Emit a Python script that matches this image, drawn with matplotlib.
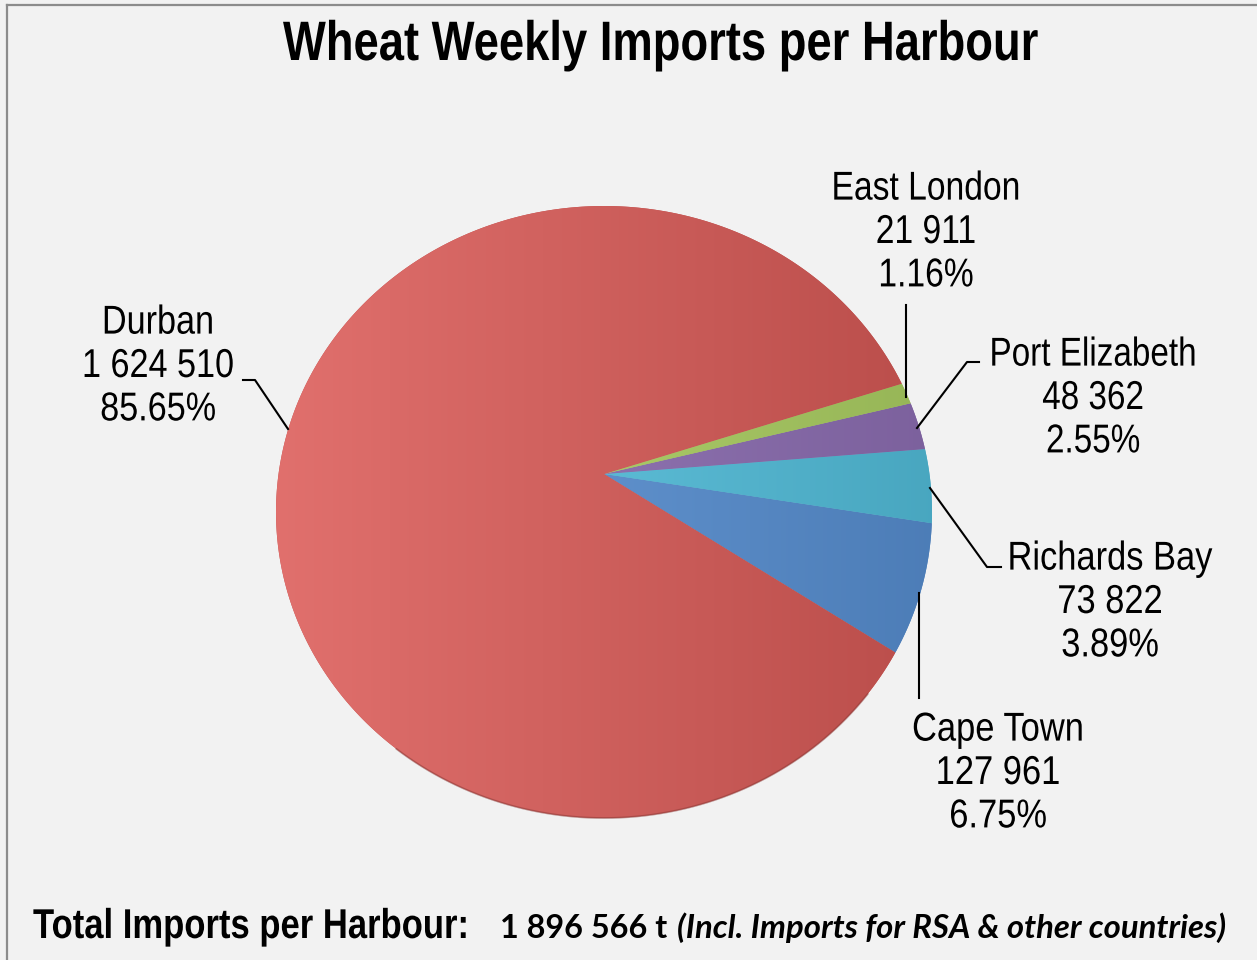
import numpy as np
import matplotlib
matplotlib.use("Agg")
import matplotlib.pyplot as plt
import matplotlib.colors as mcolors
from matplotlib.patches import Polygon
from matplotlib.patheffects import AbstractPathEffect
from matplotlib.transforms import Affine2D
from matplotlib import font_manager as fm

# ---------------- data ----------------
harbours = ["Cape Town", "Richards Bay", "Port Elizabeth", "East London", "Durban"]
tonnes = [127961, 73822, 48362, 21911, 1624510]
tonne_labels = ["127 961", "73 822", "48 362", "21 911", "1 624 510"]
pct_labels = ["6.75%", "3.89%", "2.55%", "1.16%", "85.65%"]
colors = ["#4F81BD", "#4BACC6", "#8064A2", "#9BBB59", "#C0504D"]
title = "Wheat Weekly Imports per Harbour"
total_caption = "Total Imports per Harbour:"
total_value = "1 896 566 t"
total_note = "(Incl. Imports for RSA & other countries)"

# ---------------- fonts ----------------
avail = {f.name for f in fm.fontManager.ttflist}
NARROW = "Liberation Sans Narrow" if "Liberation Sans Narrow" in avail else "Liberation Sans"
CAL = "Lato" if "Lato" in avail else "DejaVu Sans"


class Squeeze(AbstractPathEffect):
    """Scale glyph outlines about a fixed display point (narrow-font look)."""

    def __init__(self, sx, cx, sy=1.0, cy=0.0):
        super().__init__()
        self.sx, self.cx, self.sy, self.cy = sx, cx, sy, cy

    def draw_path(self, renderer, gc, tpath, affine, rgbFace=None):
        aff = affine + Affine2D().translate(-self.cx, -self.cy).scale(self.sx, self.sy) \
            .translate(self.cx, self.cy)
        renderer.draw_path(gc, tpath, aff, rgbFace)


W, H = 1257, 960
BG = "#F2F2F2"
fig = plt.figure(figsize=(W / 100, H / 100), dpi=100, facecolor=BG)
ax = fig.add_axes([0, 0, 1, 1])
ax.set_facecolor(BG)

# pie (angles come from matplotlib's pie)
wedges, _ = ax.pie(tonnes, startangle=-33.5, counterclock=True, colors=colors)
thetas = [(w.theta1, w.theta2) for w in wedges]
for w in wedges:
    w.remove()
ax.set_aspect("auto")
ax.set_xlim(0, W)
ax.set_ylim(H, 0)
ax.axis("off")

# perspective mapping of the unit disc (tilted 3D pie look)
CX, CY, A, B, D = 604.0, 512.0, 328.0, 306.0, 38.0
c_ = D / B
a_ = A * np.sqrt(1 - c_ ** 2)


def persp(x, y):
    w = 1 + c_ * y
    return CX + a_ * x / w, CY - (B * y + D) / w


def lighter(col, vf=1.17, sf=0.86):
    h, s, v = mcolors.rgb_to_hsv(mcolors.to_rgb(col))
    return mcolors.hsv_to_rgb((h, min(1, s * sf), min(1, v * vf)))


def darker(col, vf=0.97):
    h, s, v = mcolors.rgb_to_hsv(mcolors.to_rgb(col))
    return mcolors.hsv_to_rgb((h, s, v * vf))


x0p, x1p = CX - A, CX + A
y0p, y1p = CY - B, CY + B
tt = np.linspace(0, 1, 256)[None, :, None]

for (t1, t2), col in zip(thetas, colors):
    ang = np.radians(np.linspace(t1, t2, max(4, int(abs(t2 - t1) * 2))))
    ux = np.concatenate([[0.0], np.cos(ang)])
    uy = np.concatenate([[0.0], np.sin(ang)])
    px, py = persp(ux, uy)
    poly = Polygon(np.column_stack([px, py]), closed=True, facecolor=col,
                   edgecolor="none", zorder=2)
    ax.add_patch(poly)
    cl = np.array(lighter(col))[None, None, :]
    cr = np.array(darker(col))[None, None, :]
    grad = np.repeat(cl * (1 - tt) + cr * tt, 2, axis=0)
    im = ax.imshow(grad, extent=(x0p, x1p, y1p + 2, y0p - 2), aspect="auto",
                   zorder=3, interpolation="bilinear")
    im.set_clip_path(poly)

# subtle darker rim at the bottom (3D edge)
t1, t2 = thetas[-1]
ang = np.radians(np.linspace(235, min(t2, 318), 200))
rx, ry = persp(np.cos(ang), np.sin(ang))
ax.plot(rx, ry, color="#8E3A37", lw=1.3, alpha=0.55, zorder=4, solid_capstyle="round")
ax.set_xlim(0, W)
ax.set_ylim(H, 0)

# ---------------- labels ----------------
label_pos = {
    "Durban": (158, 366),
    "East London": (926, 232),
    "Port Elizabeth": (1093, 398),
    "Richards Bay": (1110, 602),
    "Cape Town": (998, 773),
}
label_width = {"Durban": 152, "East London": 189, "Port Elizabeth": 207,
               "Richards Bay": 205, "Cape Town": 172}
leaders = {
    "Durban": [(243, 380), (255, 380), (288, 429)],
    "East London": [(906, 305), (906, 397)],
    "Port Elizabeth": [(979, 362), (967, 362), (917, 428)],
    "Richards Bay": [(930, 488), (987, 567), (1001, 567)],
    "Cape Town": [(919, 593), (919, 698)],
}
fit = []
for name, tl, pl in zip(harbours, tonne_labels, pct_labels):
    x, y = label_pos[name]
    t = ax.text(x, y, f"{name}\n{tl}\n{pl}", ha="center", va="center",
                multialignment="center", fontsize=29, family=NARROW,
                linespacing=1.18, color="black", zorder=6)
    fit.append((t, label_width[name], x, y, 1.0))
    pts = np.array(leaders[name])
    ax.plot(pts[:, 0], pts[:, 1], color="black", lw=1.5, zorder=6)

# ---------------- title & footer ----------------
t_title = ax.text(660, 46, title, ha="center", va="center", fontsize=40,
                  family=NARROW, weight="bold", color="black")
cap_size = 24.0
t_cap = ax.text(33, 938, total_caption, ha="left", va="baseline", fontsize=cap_size,
                family=NARROW, weight="bold", color="black")
t_val = ax.text(500, 938, total_value, ha="left", va="baseline", fontsize=23,
                family=CAL, weight="bold", color="black")
t_note = ax.text(677, 938, total_note, ha="left", va="baseline", fontsize=17.5,
                 family=CAL, weight="bold", style="italic", color="black")
fit += [(t_title, 754, 660, 46, 1.0), (t_cap, 437, 33, 938, 30.0 / cap_size)]

fig.canvas.draw()
r = fig.canvas.get_renderer()
# Lato texts: size them to the reference widths
for t, target in [(t_val, 167), (t_note, 548)]:
    wpx = t.get_window_extent(r).width
    t.set_fontsize(t.get_fontsize() * target / wpx)
# Liberation Sans texts: condense to the narrow widths of the reference
for t, target, xa, ya, sy in fit:
    wpx = t.get_window_extent(r).width
    sx = target / wpx if wpx > 0 else 1.0
    cx, cy = ax.transData.transform((xa, ya))
    t.set_path_effects([Squeeze(sx, cx, sy, cy)])

# frame border (left and top)
ax.plot([7, 7], [5, H + 5], color="#8C8C8C", lw=1.6, zorder=10, clip_on=False)
ax.plot([7, W + 5], [5, 5], color="#8C8C8C", lw=1.6, zorder=10, clip_on=False)
ax.set_xlim(0, W)
ax.set_ylim(H, 0)

fig.savefig("out.png", dpi=100, facecolor=BG)
